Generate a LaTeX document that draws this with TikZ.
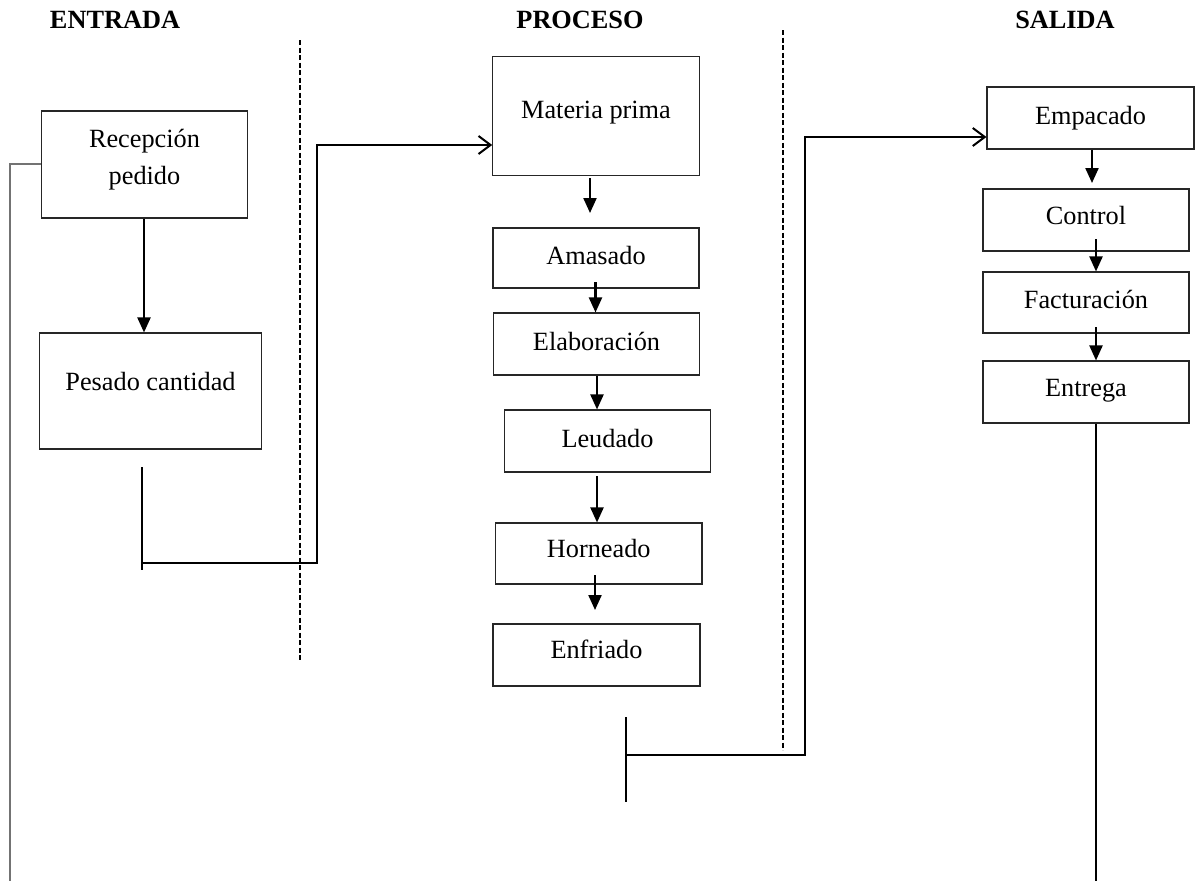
\documentclass[tikz,border=0pt]{standalone}
\usepackage{fontspec}
\setmainfont{Liberation Serif}
\usetikzlibrary{arrows.meta}
\tikzset{
  x=1pt, y=-1pt,
  box/.style={draw=black!85, line width=1.1pt, inner sep=0pt, font=\fontsize{26.3}{33}\selectfont},
  onebox/.style={box, text height=13.7pt, text depth=1.7pt},
  hdr/.style={font=\fontsize{26.3}{31}\selectfont\bfseries},
  farr/.style={line width=2.2pt, -{Triangle[length=15pt,width=13pt]}},
  oarr/.style={line width=2.2pt, -{Straight Barb[length=12pt,width=18pt,line width=2pt]}},
  conn/.style={line width=2.2pt},
  sep/.style={line width=2pt, dash pattern=on 5pt off 2.5pt}
}
\begin{document}
\begin{tikzpicture}
\useasboundingbox (0,0) rectangle (1197,881);
% headers
\node[hdr] (hin) at (115,20) {ENTRADA};
\node[hdr] (hpr) at (580,20) {PROCESO};
\node[hdr] (hout) at (1065,20) {SALIDA};
% separators
\coordinate (s1a) at (300,40);  \coordinate (s1b) at (300,660);
\coordinate (s2a) at (783,30);  \coordinate (s2b) at (783,750);
\draw[sep] (s1a) -- (s1b);
\draw[sep] (s2a) -- (s2b);
% ENTRADA
\node[box, minimum width=206pt, minimum height=107pt] (rp) at (144.5,164.5) {};
\node[font=\fontsize{26.3}{37}\selectfont, align=center, inner sep=0pt] (rpt) at (144.5,159.5) {Recepción\\pedido};
\node[onebox, minimum width=222pt, minimum height=116pt, text depth=14.2pt] (pc) at (150.5,391) {Pesado cantidad};
% PROCESO
\node[onebox, minimum width=206.5pt, minimum height=119.5pt, text depth=8.7pt] (mp) at (596,116) {Materia prima};
\node[onebox, minimum width=206pt, minimum height=60pt, text depth=0.9pt] (am) at (596,258) {Amasado};
\node[onebox, minimum width=206pt, minimum height=62pt] (el) at (596.5,344) {Elaboración};
\node[onebox, minimum width=206pt, minimum height=62pt] (le) at (607.5,441) {Leudado};
\node[onebox, minimum width=206.5pt, minimum height=61pt, text depth=5.8pt] (ho) at (598.75,553.5) {Horneado};
\node[onebox, minimum width=207pt, minimum height=62pt, text depth=5.8pt] (en) at (596.5,655) {Enfriado};
% SALIDA
\node[onebox, minimum width=207pt, minimum height=62pt] (ep) at (1090.5,118) {Empacado};
\node[onebox, minimum width=206pt, minimum height=62pt, text depth=4pt] (co) at (1086,220) {Control};
\node[onebox, minimum width=206pt, minimum height=61pt] (fa) at (1086,302.5) {Facturación};
\node[onebox, minimum width=206pt, minimum height=62pt, text depth=4.7pt] (eg) at (1086,392) {Entrega};
% vertical arrows
\draw[farr] (rp.south -| 144,0) -- (pc.north -| 144,0);
\coordinate (a1) at (590,178);  \coordinate (a1e) at (590,213);
\draw[farr] (a1) -- (a1e);
\coordinate (a2) at (595.5,282);
\draw[farr] (a2) -- (el.north -| a2);
\draw[farr] (el.south -| 597,0) -- (le.north -| 597,0);
\coordinate (a4) at (597,476);
\draw[farr] (a4) -- (ho.north -| a4);
\coordinate (a5) at (595,575);  \coordinate (a5e) at (595,610);
\draw[farr] (a5) -- (a5e);
\coordinate (a6e) at (1092,183);
\draw[farr] (ep.south -| a6e) -- (a6e);
\coordinate (a7) at (1096,239);
\draw[farr] (a7) -- (fa.north -| a7);
\coordinate (a8) at (1096,327);
\draw[farr] (a8) -- (eg.north -| a8);
% left loop
\coordinate (lb) at (10,881);
\draw[line width=2.2pt, draw=black!55] (rp.west |- 0,164) -- (10,164) -- (lb);
% bracket from Pesado
\coordinate (b1t) at (142,467); \coordinate (b1b) at (142,570);
\draw[conn] (b1t) -- (b1b);
\coordinate (b1m) at (142,563);
\draw[oarr] (b1m) -- (317,563) -- (317,145) -- (mp.west |- 0,145);
% bracket from Enfriado
\coordinate (b2t) at (626,717); \coordinate (b2b) at (626,802);
\draw[conn] (b2t) -- (b2b);
\coordinate (b2m) at (626,755);
\draw[oarr] (b2m) -- (805,755) -- (805,137) -- (ep.west |- 0,137);
% Entrega line
\coordinate (eb) at (1096,881);
\draw[conn] (eg.south -| eb) -- (eb);
\end{tikzpicture}
\end{document}
